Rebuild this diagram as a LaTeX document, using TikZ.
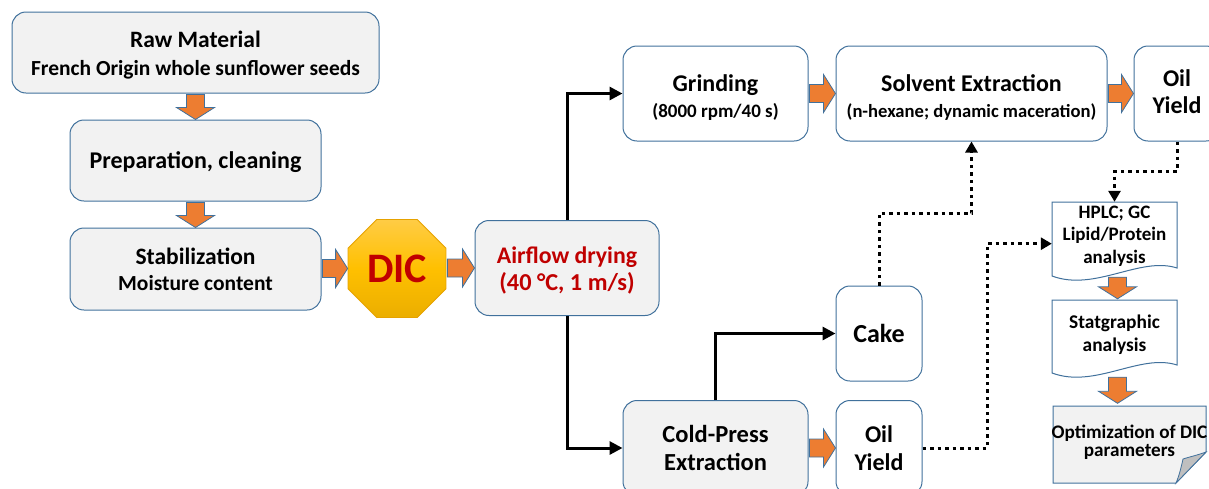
\documentclass[tikz,border=0pt]{standalone}
\usepackage{fontspec}
\setmainfont{Carlito}
\usetikzlibrary{shapes.geometric,arrows.meta,calc}
\definecolor{bordc}{HTML}{41719C}
\definecolor{boxgray}{HTML}{F2F2F2}
\definecolor{txtred}{HTML}{C00000}
\definecolor{orng}{HTML}{ED7D31}
\definecolor{foldgray}{HTML}{BFBFBF}
\definecolor{dictop}{HTML}{FFCC45}
\definecolor{dicmid}{HTML}{FFC000}
\definecolor{dicbot}{HTML}{EBAE00}
\definecolor{dicedge}{HTML}{E6A200}
\newcommand\fs[1]{\fontsize{#1}{#1}\selectfont}
\newcommand\fsb[2]{\fontsize{#1}{#2}\selectfont}
\newcommand\dn[2]{\raisebox{-#1}[\height][\depth]{#2}}
\newcommand\oarrowR[2]{%
  \filldraw[oarr] let \p1=#1, \p2=#2 in
  (\x1+1pt,\y2+9pt) -- (\x2-12pt,\y2+9pt) -- (\x2-12pt,\y2+19pt) -- (\x2,\y2)
  -- (\x2-12pt,\y2-19pt) -- (\x2-12pt,\y2-9pt) -- (\x1+1pt,\y2-9pt) -- cycle;}
\newcommand\oarrowD[2]{%
  \filldraw[oarr] let \p1=#1, \p2=#2 in
  (\x2-9pt,\y1-1pt) -- (\x2-9pt,\y2+12pt) -- (\x2-19pt,\y2+12pt) -- (\x2,\y2)
  -- (\x2+19pt,\y2+12pt) -- (\x2+9pt,\y2+12pt) -- (\x2+9pt,\y1-1pt) -- cycle;}
\tikzset{
  box/.style={draw=bordc, line width=1pt, rounded corners=14pt, align=center,
    inner sep=0pt},
  gbox/.style={box, fill=boxgray},
  wbox/.style={box, fill=white},
  txt/.style={align=center, inner sep=0pt},
  oarr/.style={fill=orng, draw=bordc, line width=0.8pt},
  conn/.style={line width=3pt, -{Triangle[length=13pt,width=13pt]}},
  dotconn/.style={line width=3pt, dash pattern=on 3.5pt off 4pt,
    -{Triangle[length=11pt,width=12pt]}},
  docline/.style={draw=bordc, line width=1pt, fill=white},
}
\begin{document}
\begin{tikzpicture}[x=1pt,y=-1pt]
\useasboundingbox (0,0) rectangle (1209,488);
\clip (0,0) rectangle (1209,488);

% left column
\node[gbox, minimum width=367pt, minimum height=81pt, font=\bfseries\fsb{21.5}{28}] (raw) at (195.5,52.5)
  {\dn{3pt}{\fs{23.5}Raw Material}\\\dn{3pt}{French Origin whole sunflower seeds}};
\node[gbox, minimum width=251pt, minimum height=81pt, font=\bfseries\fs{24}] (prep) at (195.5,160.5)
  {\dn{2pt}{Preparation, cleaning}};
\node[gbox, minimum width=251pt, minimum height=82pt, font=\bfseries\fsb{21.5}{26}] (stab) at (195.5,269)
  {{\fs{23.5}Stabilization}\\Moisture content};

% DIC
\node[regular polygon, regular polygon sides=8, minimum size=106pt, inner sep=0pt,
  top color=dictop, bottom color=dicbot, middle color=dicmid,
  draw=dicedge, line width=0.8pt, text=txtred, font=\bfseries\fs{42}] (dic) at (397,268.5) {DIC};

% airflow
\node[gbox, minimum width=184pt, minimum height=95pt, text=txtred, font=\bfseries\fsb{24.3}{27}] (air) at (567,268)
  {\dn{2pt}{\fs{23.8}Airflow drying}\\\dn{2pt}{(40 °C, 1 m/s)}};

% upper row
\node[wbox, minimum width=185pt, minimum height=95pt, font=\bfseries\fsb{19}{26}] (grind) at (715.5,93.5)
  {\dn{4.5pt}{\fs{24}Grinding}\\\dn{4.5pt}{(8000 rpm/40 s)}};
\node[wbox, minimum width=271pt, minimum height=95pt, font=\bfseries\fsb{18.6}{26}] (solv) at (971.5,93.5)
  {\dn{4pt}{\fs{24}Solvent Extraction}\\\dn{4pt}{(n-hexane; dynamic maceration)}};
\node[wbox, minimum width=86pt, minimum height=95pt, font=\bfseries\fsb{24}{27}] (oil1) at (1177,93.5)
  {\dn{-1.5pt}{Oil}\\\dn{-1.5pt}{Yield}};

% lower row
\node[wbox, minimum width=86pt, minimum height=95pt, font=\bfseries\fs{26}] (cake) at (879,333.5)
  {Cake};
\node[gbox, minimum width=185pt, minimum height=95pt, font=\bfseries\fsb{24.5}{28}] (cold) at (715.5,448)
  {Cold-Press\\Extraction};
\node[wbox, minimum width=86pt, minimum height=95pt, font=\bfseries\fsb{24}{28}] (oil2) at (879,448)
  {Oil\\Yield};

% right column documents
\filldraw[docline] (1052,202) -- (1177,202) -- (1177,268)
  .. controls (1140,256) and (1095,292) .. (1052,276) -- cycle;
\node[txt, minimum width=125pt, minimum height=68pt, font=\bfseries\fsb{19}{22.5}] (hplc) at (1114.5,236)
  {HPLC; GC\\Lipid/Protein\\analysis};
\filldraw[docline] (1052,300) -- (1177,300) -- (1177,365)
  .. controls (1140,353) and (1095,389) .. (1052,373) -- cycle;
\node[txt, minimum width=125pt, minimum height=72pt, font=\bfseries\fsb{19.4}{23}] (stat) at (1114.5,335)
  {Statgraphic\\analysis};
\filldraw[docline, fill=boxgray] (1053,406) -- (1206,406) -- (1206,452)
  -- (1176,483) -- (1053,483) -- cycle;
\filldraw[draw=bordc, line width=0.8pt, fill=foldgray] (1206,452)
  .. controls (1198,455) and (1189,457) .. (1183,459)
  .. controls (1181,468) and (1179,476) .. (1176,483) -- cycle;
\node[txt, minimum width=153pt, minimum height=77pt, font=\bfseries\fsb{19.2}{18}] (opt) at (1129.5,442)
  {Optimization of DIC\\parameters};

% orange block arrows
\oarrowD{(raw.south)}{(prep.north)}
\oarrowD{(prep.south)}{(stab.north)}
\oarrowR{(stab.east)}{(dic.west)}
\oarrowR{(dic.east)}{(air.west)}
\oarrowR{(grind.east)}{(solv.west)}
\oarrowR{(solv.east)}{(oil1.west)}
\oarrowR{(cold.east)}{(oil2.west)}
\coordinate (hplcb) at ($(hplc.south)+(3,6)$);
\coordinate (statb) at ($(stat.south)+(3,5)$);
\coordinate (statt) at ($(stat.north)+(3,0)$);
\coordinate (optt) at ($(opt.north)+(-12,0)$);
\oarrowD{(hplcb)}{(statt)}
\oarrowD{(statb)}{(optt)}

% black connectors
\draw[conn] (air.north) |- (grind.west);
\draw[conn] (air.south) |- (cold.west);
\draw[conn] (cold.north) |- (cake.west);

% dotted connectors
\coordinate (j1) at (920,213);
\coordinate (j2) at (987,300);
\coordinate (j3) at (1150,171);
\draw[dotconn] (cake.north) |- (j1) -| (solv.south);
\draw[dotconn] (oil2.east) -| (j2) |- (hplc.187);
\draw[dotconn] (oil1.south) |- (j3) -| (hplc.north);
\end{tikzpicture}
\end{document}
